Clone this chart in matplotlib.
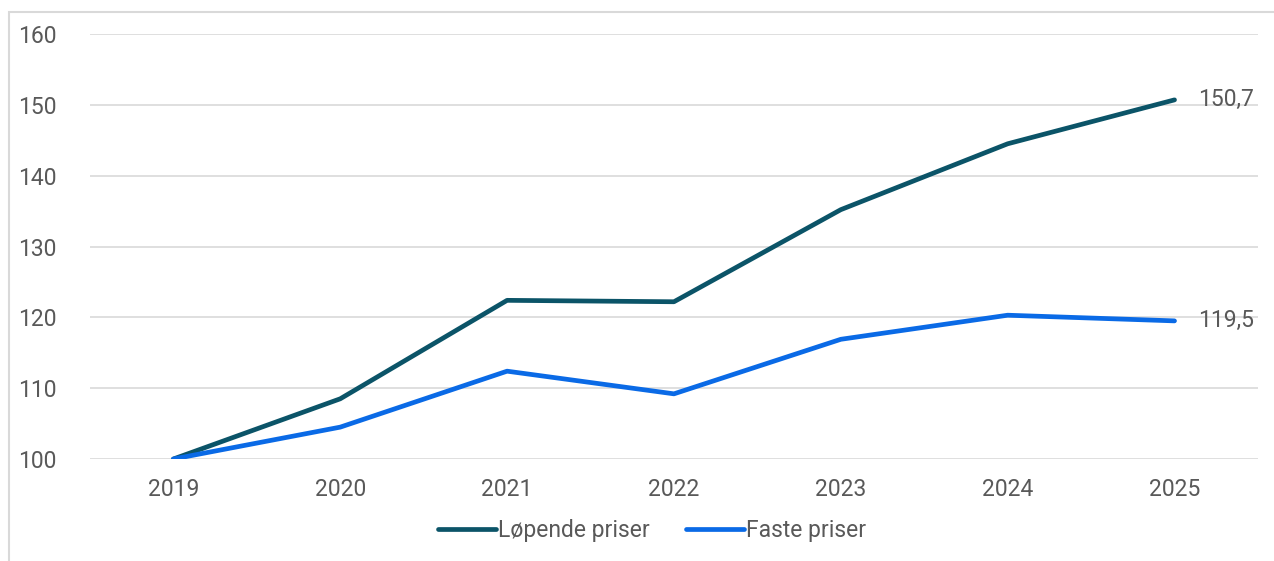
import matplotlib
matplotlib.use('Agg')
import matplotlib.pyplot as plt
from matplotlib.patches import Rectangle

# Données
annees = ['2019', '2020', '2021', '2022', '2023', '2024', '2025']
lopende = [100, 108.5, 122.4, 122.2, 135.2, 144.5, 150.7]
faste = [100, 104.5, 112.4, 109.2, 116.9, 120.3, 119.5]
etiquettes_fin = ['150,7', '119,5']

couleur_lopende = '#0b5468'
couleur_faste = '#0a6ae6'
gris = '#595959'

plt.rcParams['font.family'] = ['Roboto', 'DejaVu Sans']

fig = plt.figure(figsize=(12.74, 5.61), dpi=100)
ax = fig.add_axes([0.0706, 0.1818, 0.9168, 0.7576])

x = range(len(annees))
ax.plot(x, lopende, color=couleur_lopende, lw=3.4, solid_capstyle='round', label='Løpende priser', zorder=3)
ax.plot(x, faste, color=couleur_faste, lw=3.4, solid_capstyle='round', label='Faste priser', zorder=3)

# Étiquettes en fin de courbe
for serie, txt in zip([lopende, faste], etiquettes_fin):
    ax.annotate(txt, (len(annees) - 1, serie[-1]), xytext=(17, 0), textcoords='offset points',
                va='center', ha='left', fontsize=16.5, color=gris)

ax.set_xlim(-0.5, len(annees) - 0.5)
ax.set_ylim(100, 160)
ax.set_yticks(range(100, 161, 10))
ax.set_xticks(list(x))
ax.set_xticklabels(annees)
ax.grid(axis='y', color='#d9d9d9', lw=1.2)
ax.set_axisbelow(True)
for s in ax.spines.values():
    s.set_visible(False)
ax.tick_params(length=0, labelsize=16.5, labelcolor=gris)
ax.tick_params(axis='x', pad=14)
ax.tick_params(axis='y', pad=24)

leg = fig.legend(loc='center', bbox_to_anchor=(0.512, 0.055), ncol=2, frameon=False,
                 fontsize=16.5, handlelength=2.5, handletextpad=0.1, columnspacing=1.6,
                 labelcolor=gris)

# Cadre gris autour du graphique
fig.patches.append(Rectangle((9 / 1274, -0.1), 1.2, 1 - 12 / 561 + 0.1, transform=fig.transFigure,
                             fill=False, edgecolor='#d9d9d9', lw=1.5))

fig.savefig('out.png', dpi=100)
